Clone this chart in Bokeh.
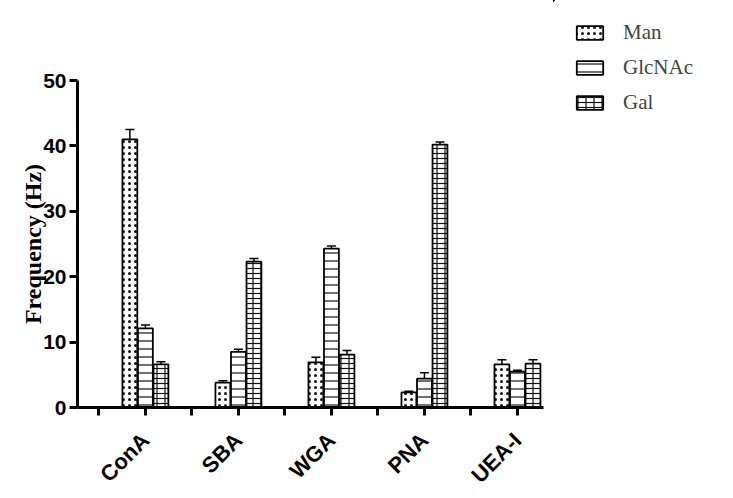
import numpy as np
from bokeh.plotting import figure
from bokeh.layouts import row
from bokeh.core.properties import value
from bokeh.models import (ColumnDataSource, Range1d, FixedTicker, Legend, LegendItem,
                          Whisker, TeeHead)
from bokeh.embed import file_html
from bokeh.resources import INLINE

categories = ["ConA", "SBA", "WGA", "PNA", "UEA-I"]
series = ["Man", "GlcNAc", "Gal"]
man = [41.0, 3.8, 6.9, 2.3, 6.6]
man_err = [1.5, 0.3, 0.8, 0.2, 0.7]
glc = [12.1, 8.5, 24.3, 4.4, 5.5]
glc_err = [0.5, 0.4, 0.4, 0.9, 0.2]
gal = [6.6, 22.3, 8.1, 40.2, 6.7]
gal_err = [0.4, 0.5, 0.6, 0.4, 0.6]
y_ticks = [0, 10, 20, 30, 40, 50]

p = figure(width=553, height=482, output_backend="svg", toolbar_location=None,
           x_range=Range1d(-0.73, 4.28), y_range=Range1d(0, 50),
           min_border_left=77, min_border_top=80, min_border_bottom=75,
           min_border_right=10)
p.frame_width = 466
p.frame_height = 327
p.outline_line_color = None
p.xgrid.visible = False
p.ygrid.visible = False

pl = figure(width=164, height=482, output_backend="svg", toolbar_location=None,
            x_range=Range1d(10, 11), y_range=Range1d(-2, -1),
            x_axis_location=None, y_axis_location=None,
            min_border_left=0, min_border_right=0, min_border_top=0, min_border_bottom=0)
pl.frame_align = False
pl.outline_line_color = None
pl.xgrid.visible = False
pl.ygrid.visible = False

offsets = [-0.167, 0.0, 0.167]
vals = [man, glc, gal]
errs = [man_err, glc_err, gal_err]
# each series: list of hatch layers (pattern, scale, weight)
layers = [
    [("dot", 6.0, 1.0)],
    [("horizontal_line", 8.0, 1.2)],
    [("horizontal_line", 5.0, 1.2), ("vertical_line", 8.0, 1.2)],
]
items = []
base = np.arange(len(categories))
for s, off, v, e, lay in zip(series, offsets, vals, errs, layers):
    v = np.array(v)
    e = np.array(e)
    src = ColumnDataSource(dict(x=base + off, top=v, upper=v + e, lower=v - e))
    leg_rs = []
    for k, (h, sc, w) in enumerate(lay):
        style = dict(fill_color="white" if k == 0 else None,
                     line_color="black" if k == len(lay) - 1 else None,
                     line_width=1.8,
                     hatch_pattern=value(h), hatch_scale=sc, hatch_weight=w,
                     hatch_color="#111111")
        p.vbar(x="x", top="top", width=0.16, source=src, **style)
        leg_rs.append(pl.vbar(x="x", top="top", width=0.16, source=src, **style))
    wk = Whisker(base="x", upper="upper", lower="lower", source=src,
                 line_color="black", line_width=1.5,
                 upper_head=TeeHead(size=9, line_width=1.5, line_color="black"),
                 lower_head=None)
    p.add_layout(wk)
    items.append(LegendItem(label=s, renderers=leg_rs))

legend = Legend(items=items, location="top_left", glyph_width=33, glyph_height=17,
                spacing=10, label_standoff=17, label_height=20,
                label_text_font="Liberation Serif",
                label_text_font_size="21px", border_line_color=None,
                background_fill_alpha=0, padding=0, margin=20)
pl.add_layout(legend, "center")

for ax in [p.xaxis[0], p.yaxis[0]]:
    ax.axis_line_width = 3
    ax.major_tick_line_width = 3
    ax.major_tick_out = 8
    ax.major_tick_in = 0
    ax.minor_tick_line_width = 3
    ax.major_label_text_font = "Liberation Sans"
    ax.major_label_text_font_style = "bold"
    ax.major_label_text_color = "black"
    ax.axis_line_color = "black"
    ax.major_tick_line_color = "black"
    ax.minor_tick_line_color = "black"

p.xaxis.ticker = FixedTicker(ticks=list(range(len(categories))),
                             minor_ticks=[i - 0.5 for i in range(len(categories))])
p.xaxis.minor_tick_out = 8
p.xaxis.minor_tick_in = 0
p.xaxis.major_label_overrides = {i: c for i, c in enumerate(categories)}
p.xaxis.major_label_orientation = np.pi / 4
p.xaxis.major_label_text_font_size = "22px"
p.xaxis.major_label_standoff = 21

p.yaxis.ticker = FixedTicker(ticks=y_ticks, minor_ticks=[])
p.yaxis.major_label_text_font_size = "21px"
p.yaxis.major_label_standoff = 3
p.yaxis.axis_label = "Frequency (Hz)"
p.yaxis.axis_label_text_font = "Liberation Serif"
p.yaxis.axis_label_text_font_style = "bold"
p.yaxis.axis_label_text_font_size = "24px"
p.yaxis.axis_label_text_color = "black"
p.yaxis.axis_label_standoff = -6

layout = row(p, pl, spacing=0)
open("out.html", "w").write(file_html(layout, INLINE))
